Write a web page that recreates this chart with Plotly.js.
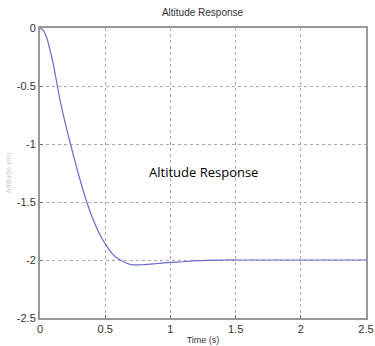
<!DOCTYPE html>
<html><head><meta charset="utf-8">
<script src="https://cdn.plot.ly/plotly-3.0.1.min.js"></script>
<style>html,body{margin:0;padding:0;background:#fff}#c{width:375px;height:346px}</style>
</head><body><div id="c"></div>
<script>
const timeS = [0,0.025,0.05,0.075,0.1,0.125,0.15,0.2,0.25,0.3,0.35,0.4,0.45,0.5,0.55,0.6,0.65,0.7,0.8,0.9,1.0,1.1,1.2,1.4,1.6,2.0,2.5];
const altitude = [0,-0.02,-0.08,-0.18,-0.3,-0.45,-0.6,-0.85,-1.07,-1.28,-1.47,-1.63,-1.76,-1.86,-1.94,-1.99,-2.02,-2.04,-2.04,-2.03,-2.02,-2.015,-2.005,-2.0,-2.0,-2.0,-2.0];
const xTicks = [0,0.5,1,1.5,2,2.5];
const yTicks = [0,-0.5,-1,-1.5,-2,-2.5];
const fnt = "'Liberation Sans Narrow', 'Liberation Sans', Arial, sans-serif";
Plotly.newPlot('c', [{
  x: timeS, y: altitude, type: 'scatter', mode: 'lines',
  line: {color: '#6a6acc', width: 1.2, shape: 'spline'}, hoverinfo: 'skip'
}], {
  width: 375, height: 346,
  margin: {l: 40, r: 9, t: 28, b: 28},
  paper_bgcolor: '#fff', plot_bgcolor: '#fff',
  showlegend: false,
  title: {text: 'Altitude Response', font: {family: fnt, size: 10, color: '#333'}, x: 0.54, xanchor: 'center', y: 0.965, yanchor: 'middle'},
  xaxis: {range: [0, 2.5], tickvals: xTicks, ticktext: xTicks.map(String),
    showgrid: true, gridcolor: '#aaa', griddash: 'dot', gridwidth: 1,
    showline: true, linecolor: '#999', linewidth: 2, mirror: true,
    ticks: 'inside', ticklen: 3, tickcolor: '#666', zeroline: false,
    ticklabeloverflow: 'allow', automargin: false,
    tickfont: {family: fnt, size: 11, color: '#333'},
    title: {text: 'Time (s)', font: {family: fnt, size: 9, color: '#333'}, standoff: 2}},
  yaxis: {range: [-2.5, 0], tickvals: yTicks, ticktext: yTicks.map(String),
    showgrid: true, gridcolor: '#aaa', griddash: 'dot', gridwidth: 1,
    showline: true, linecolor: '#999', linewidth: 2, mirror: true,
    ticks: 'inside', ticklen: 3, tickcolor: '#666', zeroline: false,
    automargin: false,
    tickfont: {family: fnt, size: 11, color: '#333'},
    title: {text: 'Altitude (m)', font: {family: fnt, size: 8, color: '#ccc'}, standoff: 4}},
  annotations: [{text: 'Altitude Response', xref: 'paper', yref: 'paper', x: 0.5, y: 0.503,
    showarrow: false, font: {family: "'Open Sans', 'Noto Sans', sans-serif", size: 13, color: '#000'}}]
}, {staticPlot: true});
</script></body></html>
